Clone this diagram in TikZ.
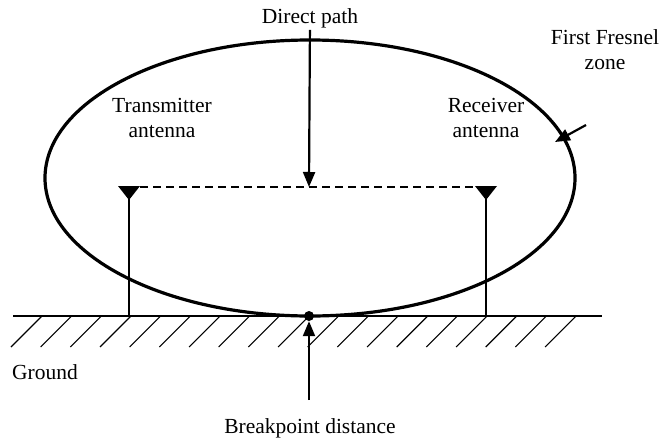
\documentclass[tikz,border=0pt]{standalone}
\usepackage{fontspec}
\setmainfont{Liberation Serif}
\usetikzlibrary{arrows.meta, positioning}

\begin{document}
\begin{tikzpicture}[
  x=1pt, y=-1pt,
  lbl/.style={align=center, inner sep=2pt, font=\fontsize{21.5}{25}\selectfont},
  fresnel/.style={line width=3.2pt},
  pole/.style={line width=2pt},
  ground/.style={line width=2.2pt},
  hatch/.style={line width=1.1pt},
  path/.style={line width=1.5pt, dash pattern=on 8pt off 5pt},
  dot/.style={circle, fill=black, inner sep=0pt, minimum size=10pt},
  arrow/.style={-{Triangle[length=15pt, width=12pt]}, line width=2.2pt}
]
\useasboundingbox (0,0) rectangle (663,442);

% labels
\node[lbl] (direct) at (310,18) {Direct path};
\node[lbl] (zone) at (605,50) {First Fresnel\\zone};
\node[lbl] (txlbl) at (162,118) {Transmitter\\antenna};
\node[lbl] (rxlbl) at (486,118) {Receiver\\antenna};
\node[lbl] (gnd) at (45,372) {Ground};
\node[lbl] (brk) at (310,428) {Breakpoint distance};

% fresnel zone
\draw[fresnel] (310,178) ellipse [x radius=265pt, y radius=138pt];

% ground
\draw[ground] (13,316) -- (602,316);
\foreach \i in {0,...,18}
  \draw[hatch] ({42+29.67*\i},316) -- ++(-31,31);

% antennas
\coordinate (tx) at (129,187);
\coordinate (rx) at (486,187);
\coordinate (txfoot) at (129,316);
\coordinate (rxfoot) at (486,316);
\draw[pole] (tx) -- (txfoot);
\draw[pole] (rx) -- (rxfoot);
\fill (tx) ++(-11,-1) -- ++(22,0) -- ++(-11,14) -- cycle;
\fill (rx) ++(-11,-1) -- ++(22,0) -- ++(-11,14) -- cycle;
\draw[path] ([xshift=11pt]tx) -- ([xshift=-11pt]rx);

% breakpoint
\node[dot] (bp) at (309,316) {};
\coordinate (mid) at (309,187);
\coordinate (bpfoot) at (309,400);
\coordinate (zonetail) at (586,125);
\coordinate (zonetip) at (555,142);

\draw[arrow] (direct) -- (mid);
\draw[arrow] (bpfoot) -- (bp);
\draw[arrow] (zonetail) -- (zonetip);
\end{tikzpicture}
\end{document}
